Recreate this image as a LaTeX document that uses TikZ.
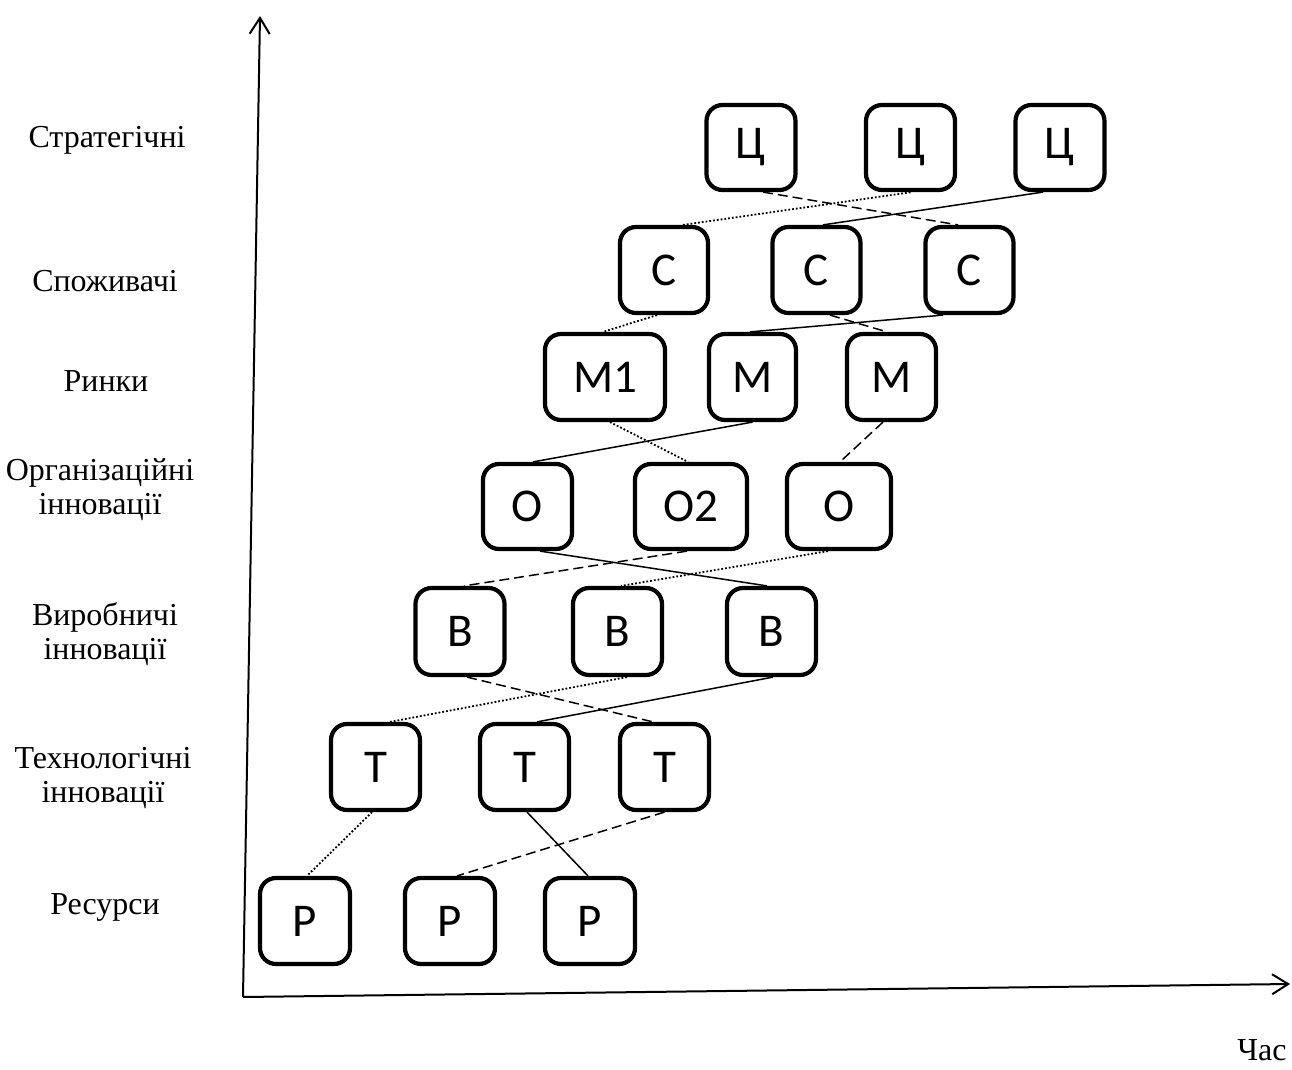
\documentclass[tikz,border=0pt]{standalone}
\usepackage{fontspec}
\setmainfont{Liberation Serif}
\newfontfamily\boxfont{Carlito}
\usetikzlibrary{arrows.meta}
\begin{document}
\begin{tikzpicture}[x=0.5pt,y=-0.5pt,
  box/.style={draw, line width=2.1pt, rounded corners=8pt, inner sep=0pt,
    minimum width=44.5pt, minimum height=43pt,
    font=\boxfont\fontsize{23.5}{28}\selectfont},
  lbl/.style={align=center, font=\fontsize{16}{17}\selectfont},
  conn/.style={line width=0.75pt},
  dashconn/.style={line width=0.75pt, dash pattern=on 5pt off 2.5pt},
  dotconn/.style={line width=0.9pt, dash pattern=on 0.9pt off 1pt},
  axis/.style={line width=1pt, -{Straight Barb[length=8pt,width=10pt,line width=1pt]}}]
\useasboundingbox (0,0) rectangle (1292,1070);

% axes
\coordinate (orig) at (243,997);
\coordinate (ytop) at (260,16);
\coordinate (xend) at (1290,984);
\draw[axis] (orig) -- (ytop);
\draw[axis] (orig) -- (xend);

% axis labels
\node[lbl] (lz) at (107,140) {Стратегічні};
\node[lbl] (lc) at (105,281) {Споживачі};
\node[lbl] (lm) at (106,381) {Ринки};
\node[lbl] (lo) at (100,490) {Організаційні\\інновації};
\node[lbl] (lb) at (105,634) {Виробничі\\інновації};
\node[lbl] (lt) at (103,778) {Технологічні\\інновації};
\node[lbl] (lp) at (105,907) {Ресурси};
\node[lbl] (lx) at (1262,1050) {Час};

% row Ц
\node[box, minimum height=42.5pt] (z1) at (751,147.5) {Ц};
\node[box, minimum height=42.5pt] (z2) at (910.5,147.5) {Ц};
\node[box, minimum height=42.5pt] (z3) at (1060,147.5) {Ц};
% row С
\node[box, minimum width=44pt] (c1) at (664,270) {С};
\node[box, minimum width=44pt] (c2) at (816.5,270) {С};
\node[box, minimum width=44pt] (c3) at (969.5,270) {С};
% row М
\node[box, minimum width=60pt] (m1) at (605,377) {М1};
\node[box, minimum width=43.5pt] (m2) at (752.5,377) {М};
\node[box] (m3) at (891.5,377) {М};
% row О
\node[box, minimum height=42.5pt] (o1) at (527.5,506.5) {О};
\node[box, minimum height=42.5pt, minimum width=56pt] (o2) at (691,506.5) {О2};
\node[box, minimum height=42.5pt, minimum width=52pt] (o3) at (839,506.5) {О};
% row В
\node[box, minimum height=43.5pt] (b1) at (460,631.5) {В};
\node[box, minimum height=43.5pt] (b2) at (617.5,631.5) {В};
\node[box, minimum height=43.5pt] (b3) at (771.5,631.5) {В};
% row Т
\node[box] (t1) at (375.5,767) {Т};
\node[box] (t2) at (524.5,767) {Т};
\node[box] (t3) at (664.5,767) {Т};
% row Р
\node[box, minimum width=45pt] (p1) at (305,921) {Р};
\node[box, minimum width=45pt] (p2) at (450,921) {Р};
\node[box, minimum width=45pt] (p3) at (590,921) {Р};

% Ц - С
\draw[dashconn] ([xshift=6pt]z1.south) -- ([xshift=-5.75pt]c3.north);
\draw[dotconn] ([xshift=9.5pt]c1.north) -- ([xshift=0.75pt]z2.south);
\draw[conn] ([xshift=3.25pt]c2.north) -- ([xshift=-8.5pt]z3.south);
% С - М
\draw[dotconn] ([xshift=-3.5pt]c1.south) -- ([xshift=-1pt]m1.north);
\draw[dashconn] ([xshift=6.75pt]c2.south) -- ([xshift=-2.25pt]m3.north);
\draw[conn] ([xshift=-1.25pt]m2.north) -- ([xshift=-13.25pt]c3.south);
% М - О
\draw[dotconn] ([xshift=2.5pt]m1.south) -- ([xshift=-1.5pt]o2.north);
\draw[conn] (m2.south) -- ([xshift=2.75pt]o1.north);
\draw[dashconn] ([xshift=-4.25pt]m3.south) -- ([xshift=0.5pt]o3.north);
% О - В
\draw[conn] ([xshift=6.25pt]o1.south) -- ([xshift=-2.25pt]b3.north);
\draw[dashconn] ([xshift=-2pt]o2.south) -- ([xshift=2pt]b1.north);
\draw[dotconn] ([xshift=-5.5pt]o3.south) -- ([xshift=1.75pt]b2.north);
% В - Т
\draw[dashconn] ([xshift=3.5pt]b1.south) -- ([xshift=-5.75pt]t3.north);
\draw[dotconn] ([xshift=4.75pt]b2.south) -- ([xshift=7.25pt]t1.north);
\draw[conn] ([xshift=0.75pt]b3.south) -- ([xshift=6.25pt]t2.north);
% Т - Р
\draw[dotconn] ([xshift=-1.75pt]t1.south) -- ([xshift=1pt]p1.north);
\draw[conn] ([xshift=1.25pt]t2.south) -- ([xshift=-1pt]p3.north);
\draw[dashconn] (t3.south) -- ([xshift=3.5pt]p2.north);
\end{tikzpicture}
\end{document}
